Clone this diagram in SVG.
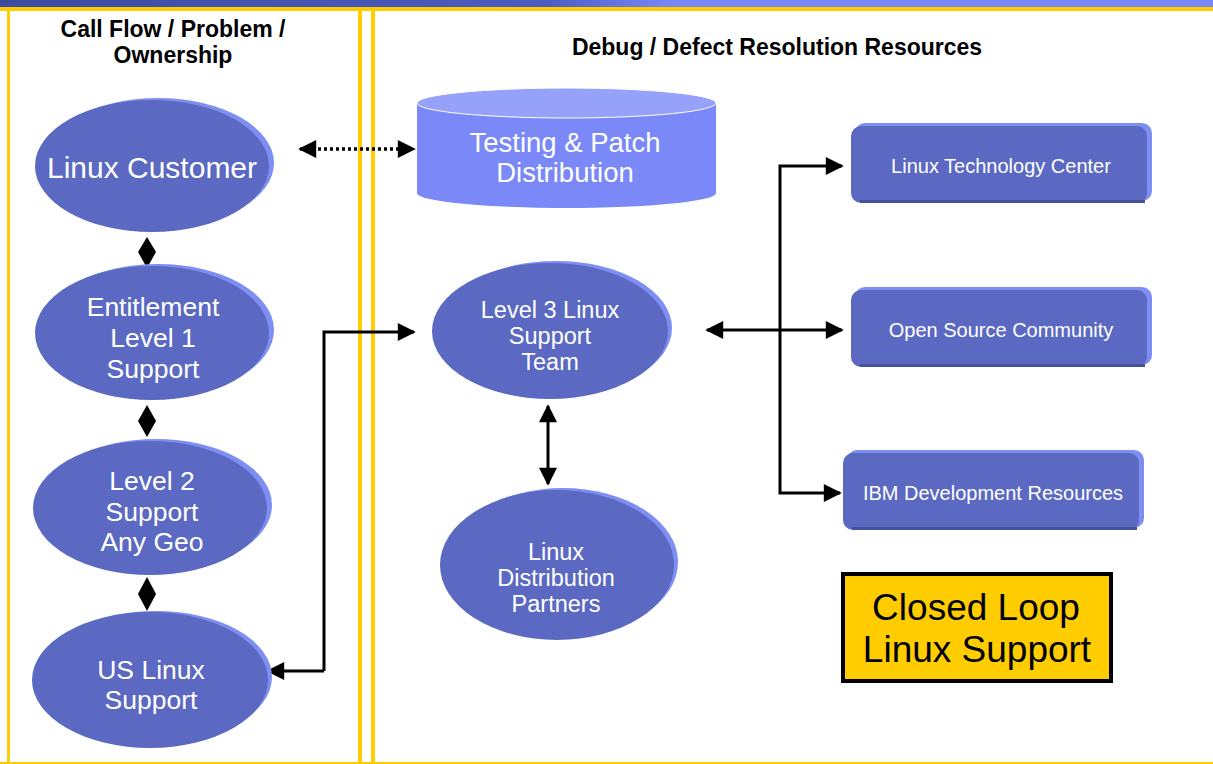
<svg xmlns="http://www.w3.org/2000/svg" width="1213" height="764" viewBox="0 0 1213 764">
<defs>
<style>
.ttl{font-family:"Liberation Sans",Arial,sans-serif;font-weight:bold;font-size:23px;fill:#000;text-anchor:middle}
.wt{font-family:"Liberation Sans",Arial,sans-serif;fill:#fff;text-anchor:middle}
.node{fill:#5b69c2}
.rim{fill:#7f8ef3}
.ln{stroke:#000;stroke-width:3;fill:none}
.yl{fill:#ffcc00}
</style>
<linearGradient id="band" x1="0" y1="0" x2="1" y2="0">
<stop offset="0" stop-color="#3d4c9e"/>
<stop offset="0.45" stop-color="#4d5cc0"/>
<stop offset="0.55" stop-color="#7986f6"/>
<stop offset="1" stop-color="#7986f6"/>
</linearGradient>
<marker id="ahb" viewBox="0 0 10 10" refX="9" refY="5" markerWidth="20" markerHeight="18" orient="auto-start-reverse" markerUnits="userSpaceOnUse">
<path d="M0,0 L10,5 L0,10 z" fill="#000"/>
</marker>
</defs>
<rect width="1213" height="764" fill="#fff"/>
<!-- frame -->
<rect x="0" y="0" width="1213" height="8" fill="url(#band)"/>
<rect x="0" y="7" width="1213" height="4" class="yl"/>
<rect x="7" y="7" width="3" height="757" class="yl"/>
<rect x="0" y="762" width="1213" height="2" class="yl"/>
<rect x="358" y="7" width="4" height="757" class="yl"/>
<rect x="371" y="7" width="4" height="757" class="yl"/>
<text class="ttl" x="173" y="37">Call Flow / Problem /</text>
<text class="ttl" x="173" y="63">Ownership</text>
<text class="ttl" x="777" y="55">Debug / Defect Resolution Resources</text>

<g id="connectors">
<line x1="300" y1="149" x2="414" y2="149" stroke="#000" stroke-width="3.5" stroke-dasharray="3,3" marker-start="url(#ahb)" marker-end="url(#ahb)"/>
<path d="M147,237 L156,252 L147,268 L138,252 z"/>
<path d="M147,405 L156,421 L147,437 L138,421 z"/>
<path d="M147,577 L156,594 L147,611 L138,594 z"/>
<path class="ln" d="M324,671 L324,332 L414,332" marker-end="url(#ahb)"/>
<line class="ln" x1="324" y1="671" x2="268" y2="671" marker-end="url(#ahb)"/>
<line class="ln" x1="548" y1="406" x2="548" y2="484" marker-start="url(#ahb)" marker-end="url(#ahb)"/>
<line class="ln" x1="707" y1="330" x2="842" y2="330" marker-start="url(#ahb)" marker-end="url(#ahb)"/>
<path class="ln" d="M842,166 L780,166 L780,493 L840,493" marker-start="url(#ahb)" marker-end="url(#ahb)"/>
</g>

<g id="linux-customer">
<ellipse class="rim" cx="158" cy="163" rx="116" ry="65"/>
<ellipse class="node" cx="152" cy="166" rx="117" ry="66"/>
<text class="wt" x="152" y="178" font-size="30">Linux Customer</text>
</g>
<g id="entitlement-l1">
<ellipse class="rim" cx="158" cy="330" rx="116" ry="66"/>
<ellipse class="node" cx="152" cy="333" rx="117" ry="67"/>
<text class="wt" font-size="26.5"><tspan x="153" y="316">Entitlement</tspan><tspan x="153" y="347">Level 1</tspan><tspan x="153" y="378">Support</tspan></text>
</g>
<g id="level2">
<ellipse class="rim" cx="156" cy="505" rx="116" ry="66"/>
<ellipse class="node" cx="150" cy="508" rx="117" ry="67"/>
<text class="wt" font-size="26.5"><tspan x="152" y="490">Level 2</tspan><tspan x="152" y="521">Support</tspan><tspan x="152" y="551">Any Geo</tspan></text>
</g>
<g id="us-linux">
<ellipse class="rim" cx="156" cy="677" rx="116" ry="66"/>
<ellipse class="node" cx="150" cy="680" rx="118" ry="68"/>
<text class="wt" font-size="26.5"><tspan x="151" y="679">US Linux</tspan><tspan x="151" y="709">Support</tspan></text>
</g>

<g id="testing-patch">
<path d="M417,103 L417,193 A149.5,15 0 0 0 716,193 L716,103 z" fill="#7a89f7"/>
<ellipse cx="566.5" cy="103" rx="149.5" ry="15" fill="#96a1f9" stroke="#fff" stroke-width="1"/>
<text class="wt" font-size="27.5"><tspan x="565" y="152">Testing &amp; Patch</tspan><tspan x="565" y="182">Distribution</tspan></text>
</g>

<g id="level3">
<ellipse class="rim" cx="556" cy="328" rx="116" ry="67"/>
<ellipse class="node" cx="550" cy="331" rx="118" ry="68"/>
<text class="wt" font-size="23.5"><tspan x="550" y="318">Level 3 Linux</tspan><tspan x="550" y="344">Support</tspan><tspan x="550" y="370">Team</tspan></text>
</g>
<g id="distribution-partners">
<ellipse class="rim" cx="563" cy="562" rx="115" ry="74"/>
<ellipse class="node" cx="557" cy="565" rx="117" ry="75"/>
<text class="wt" font-size="23.5"><tspan x="556" y="560">Linux</tspan><tspan x="556" y="586">Distribution</tspan><tspan x="556" y="612">Partners</tspan></text>
</g>

<g id="ltc">
<rect x="855" y="123" width="297" height="78" rx="10" fill="#7f8ef3"/>
<rect x="851" y="126" width="296" height="77" rx="10" class="node"/>
<rect x="860" y="200" width="285" height="3" fill="#46529a"/>
<text class="wt" x="1001" y="173" font-size="20">Linux Technology Center</text>
</g>
<g id="osc">
<rect x="855" y="287" width="297" height="78" rx="10" fill="#7f8ef3"/>
<rect x="851" y="290" width="296" height="77" rx="10" class="node"/>
<rect x="860" y="364" width="285" height="3" fill="#46529a"/>
<text class="wt" x="1001" y="337" font-size="20">Open Source Community</text>
</g>
<g id="ibm-dev">
<rect x="847" y="450" width="297" height="78" rx="10" fill="#7f8ef3"/>
<rect x="843" y="453" width="296" height="77" rx="10" class="node"/>
<rect x="852" y="527" width="285" height="3" fill="#46529a"/>
<text class="wt" x="993" y="500" font-size="20">IBM Development Resources</text>
</g>

<g id="closed-loop">
<rect x="843" y="574" width="268" height="107" fill="#ffcc00" stroke="#000" stroke-width="4"/>
<text font-family="'Liberation Sans',Arial,sans-serif" font-size="37" text-anchor="middle" fill="#000"><tspan x="976" y="620">Closed Loop</tspan><tspan x="977" y="662">Linux Support</tspan></text>
</g>
</svg>
